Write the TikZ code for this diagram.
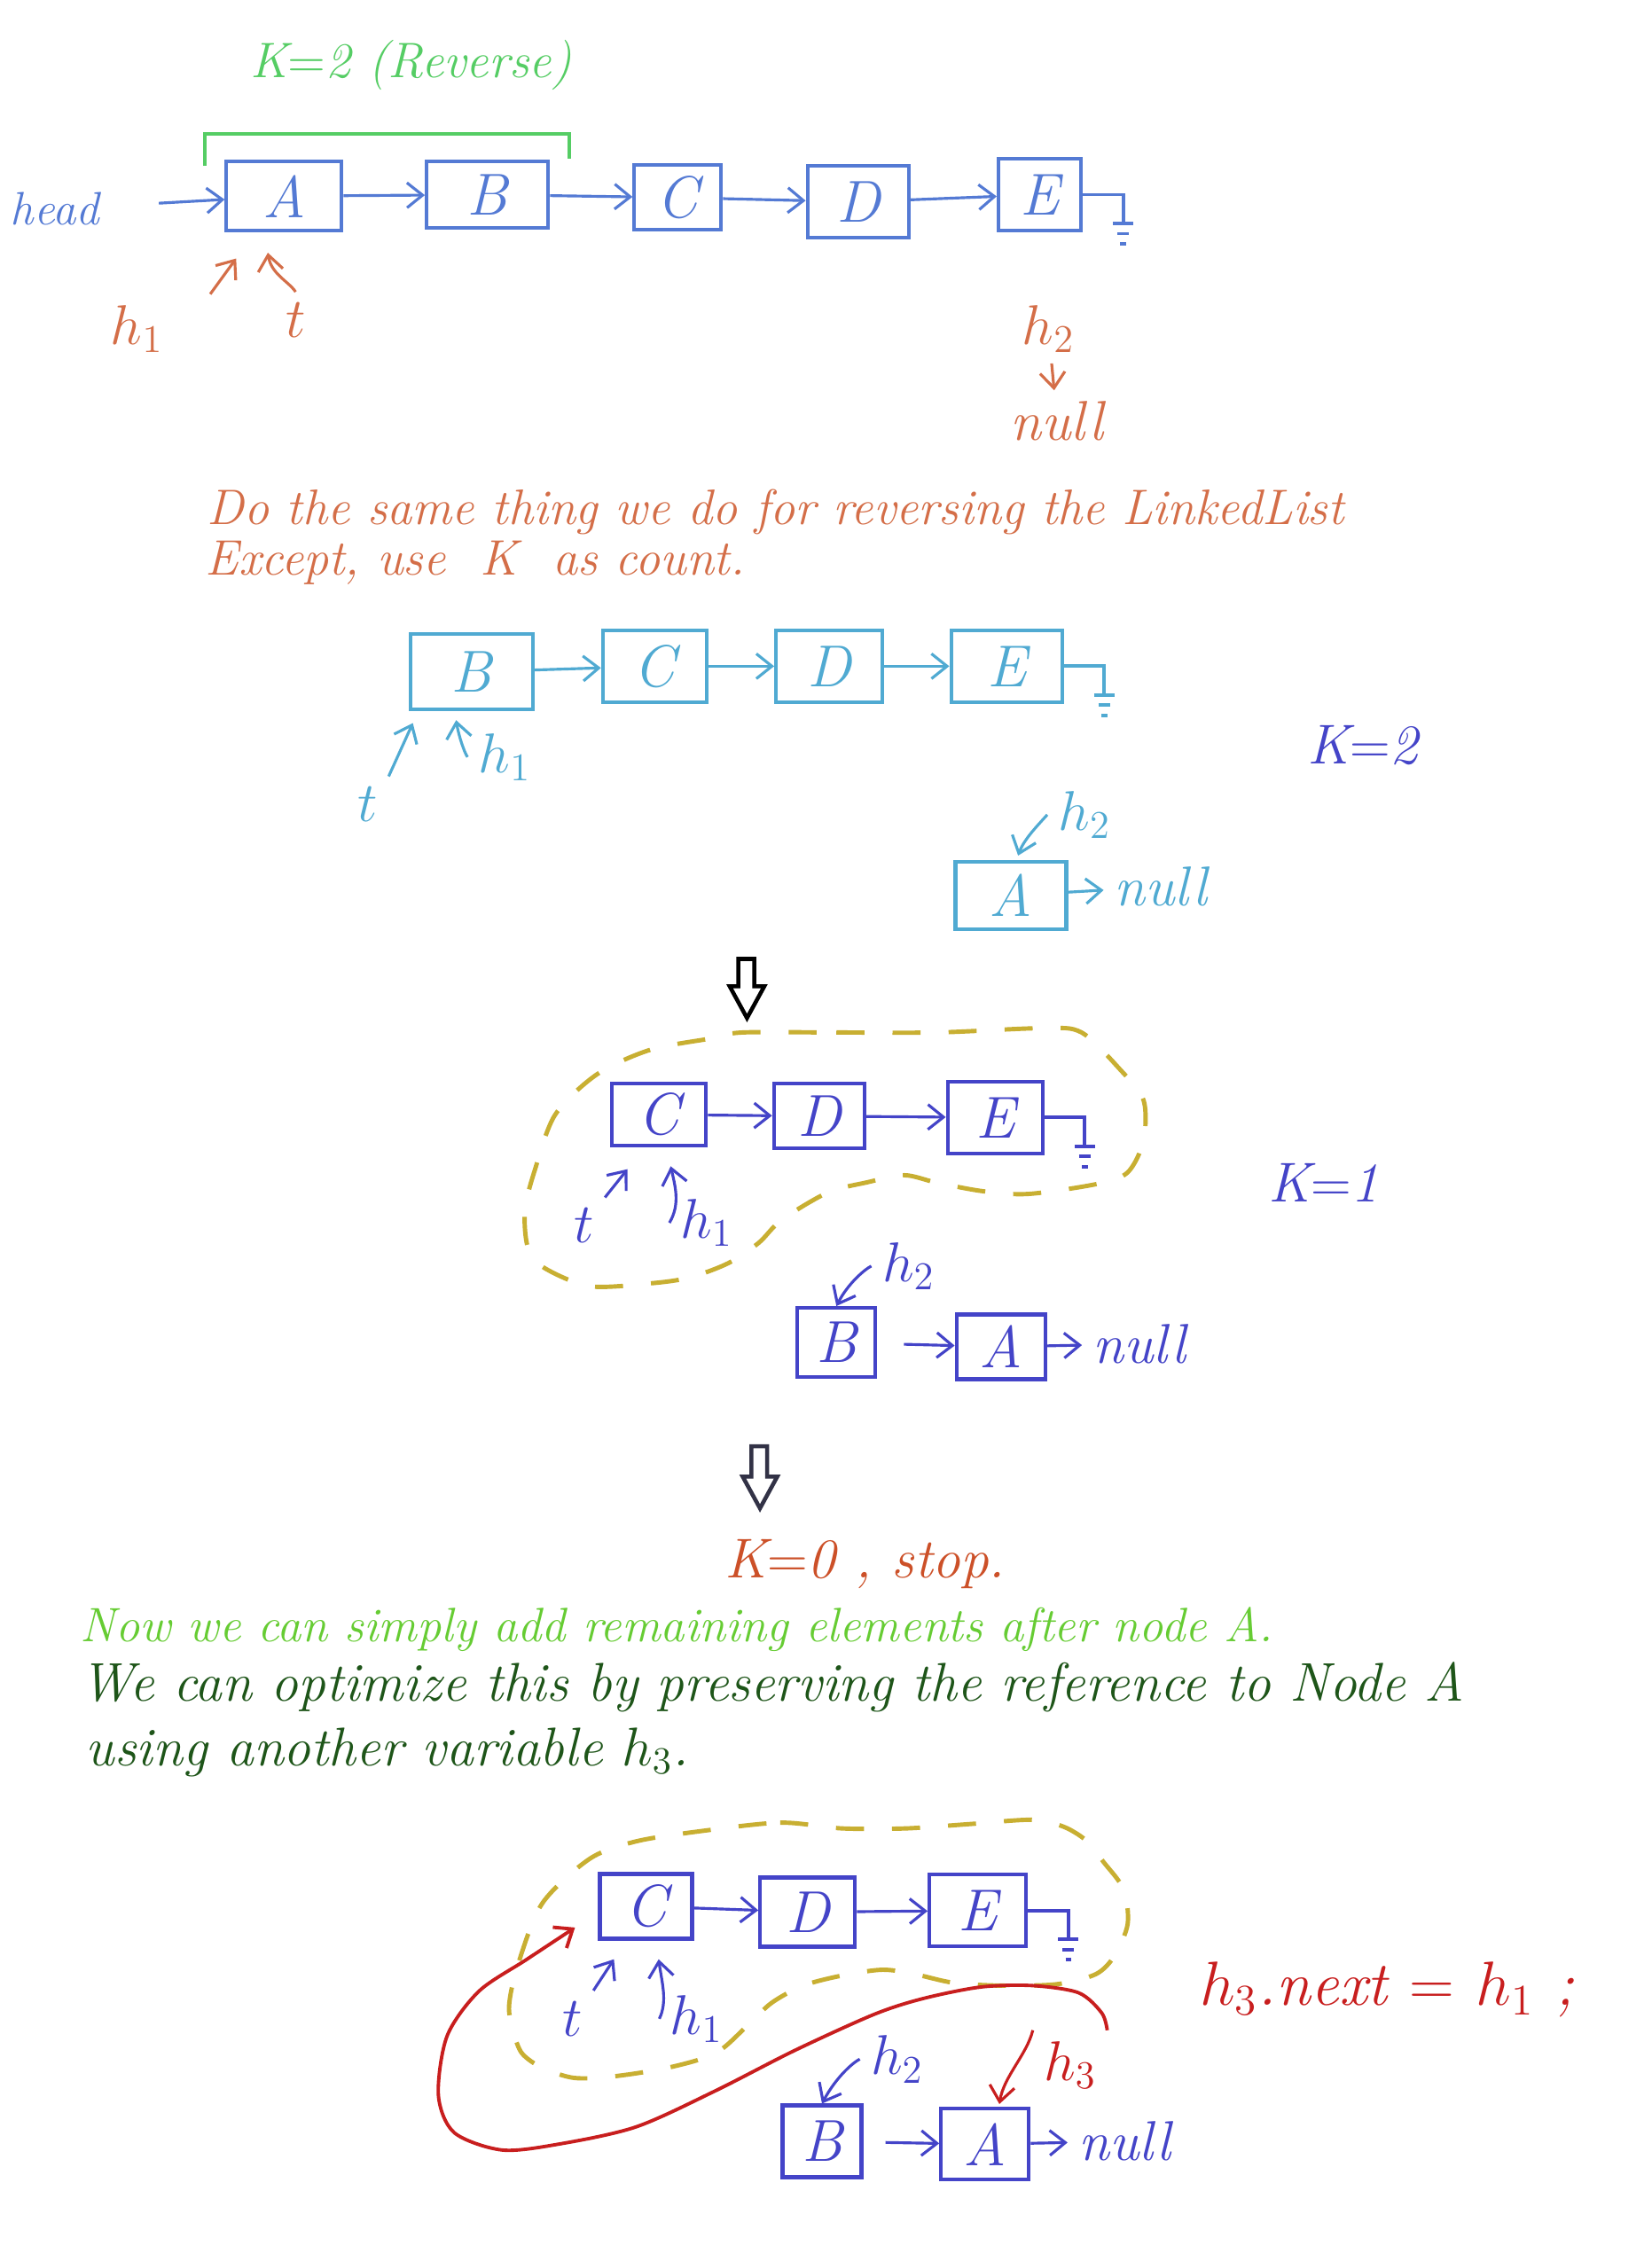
\RequirePackage{fix-cm}
\documentclass[tikz,border=0pt]{standalone}
\usepackage{fontspec}
\usetikzlibrary{arrows.meta}
\definecolor{inkA}{RGB}{84,122,212}
\definecolor{inkO}{RGB}{212,110,72}
\definecolor{inkG}{RGB}{85,205,100}
\definecolor{inkS}{RGB}{80,170,210}
\definecolor{inkI}{RGB}{68,68,200}
\definecolor{inkY}{RGB}{200,175,50}
\definecolor{inkK}{RGB}{204,80,40}
\definecolor{inkL}{RGB}{102,204,51}
\definecolor{inkD}{RGB}{30,85,25}
\definecolor{inkR}{RGB}{200,30,30}
\tikzset{
  box/.style={draw, line width=1.2pt, minimum height=0.78cm, minimum width=#1, inner sep=0pt, font=\fontsize{19}{22}\selectfont\itshape},
  lbl/.style={font=\fontsize{18}{21}\selectfont\itshape},
  txt/.style={anchor=west, font=\fontsize{16}{19}\selectfont\itshape},
  ptr/.style={->, line width=0.9pt},
  blob/.style={inkY, line width=1.4pt, dash pattern=on 9pt off 9pt},
  gnd/.pic={\draw (0,0) -- (28,0) -- (28,20); \draw (21,20) -- (35,20); \draw (24,27) -- (32,27); \draw (26,34) -- (30,34);}
}
\begin{document}
\begin{tikzpicture}[x=0.016262cm, y=-0.016262cm, >={Straight Barb[length=5pt,width=8pt]}]
\path[fill=white, use as bounding box] (0,0) rectangle (1145,1568);

% first list
\node[lbl, inkG, font=\fontsize{16}{19}\selectfont\itshape] (k_rev) at (285,45) {K$=$2 (Reverse)};
\draw[inkG, line width=1.2pt] (142,115) -- (142,93) -- (395,93) -- (395,110);
\begin{scope}[inkA]
\node[lbl, font=\fontsize{15}{18}\selectfont\itshape] (head) at (38,145) {head};
\node[box=1.30cm] (A_1) at (197,136) {A};
\node[box=1.37cm, minimum height=0.75cm] (B_1) at (338,135) {B};
\node[box=0.98cm, minimum height=0.73cm] (C_1) at (470,137) {C};
\node[box=1.14cm, minimum height=0.81cm] (D_1) at (595,140) {D};
\node[box=0.93cm, minimum height=0.81cm] (E_1) at (721,135) {E};
\draw[ptr, shorten <=0.55cm] (head) -- (A_1);
\draw[ptr] (A_1) -- (B_1);
\draw[ptr] (B_1) -- (C_1);
\draw[ptr] (C_1) -- (D_1);
\draw[ptr] (D_1) -- (E_1);
\pic[line width=1.1pt] at (E_1.east) {gnd};
\end{scope}
\begin{scope}[inkO]
\node[lbl] (h1_1) at (95,228) {$h_1$};
\node[lbl] (t_1) at (205,222) {$t$};
\node[lbl] (h2_1) at (727,228) {$h_2$};
\node[lbl] (null_1) at (733,292) {null};
\draw[ptr] ([shift={(25,0)}]h1_1.north east) -- ([shift={(8,18)}]A_1.south west);
\draw[ptr] (t_1.north) .. controls (200,195) and (188,190) .. ([shift={(30,14)}]A_1.south west);
\draw[ptr] (h2_1) -- (null_1);
\end{scope}

% second list
\begin{scope}[inkO]
\node[txt] (say_1) at (136,355) {Do the same thing we do for reversing the LinkedList};
\node[txt] (say_2) at (135,390) {Except, use \ K \ as count.};
\end{scope}
\begin{scope}[inkS]
\node[box=1.38cm, minimum height=0.85cm] (B_2) at (327,466) {B};
\node[box=1.17cm, minimum height=0.81cm] (C_2) at (454,462) {C};
\node[box=1.20cm, minimum height=0.81cm] (D_2) at (575,462) {D};
\node[box=1.25cm, minimum height=0.81cm] (E_2) at (698,462) {E};
\draw[ptr] (B_2) -- (C_2);
\draw[ptr] (C_2) -- (D_2);
\draw[ptr] (D_2) -- (E_2);
\pic[line width=1.1pt] at (E_2.east) {gnd};
\node[lbl] (t_2) at (255,558) {$t$};
\node[lbl] (h1_2) at (350,525) {$h_1$};
\draw[ptr] (t_2.north east) -- ([shift={(3,8)}]B_2.south west);
\draw[ptr] (h1_2.west) .. controls (322,522) and (318,510) .. ([shift={(33,6)}]B_2.south west);
\node[box=1.25cm, minimum height=0.76cm] (A_2) at (701,621) {A};
\node[lbl] (h2_2) at (752,565) {$h_2$};
\node[lbl] (null_2) at (805,615) {null};
\draw[ptr] (h2_2.west) .. controls (720,572) and (710,582) .. ([shift={(5,-3)}]A_2.north);
\draw[ptr] (A_2) -- (null_2);
\end{scope}
\node[lbl, inkI] (k_2) at (945,517) {K$=$2};

% step
\draw[line width=1.3pt, fill=white] (512,665) -- (523,665) -- (523,684) -- (530,684) -- (518,706) -- (506,684) -- (512,684) -- cycle;

% third list
\draw[blob] plot[smooth cycle] coordinates {(515,716) (580,716) (650,716) (723,713) (750,716) (777,742) (793,763) (793,791) (782,813) (761,821) (713,828) (681,826) (649,820) (627,815) (601,820) (574,827) (542,846) (526,862) (505,876) (478,886) (451,890) (409,892) (377,879) (366,865) (364,839) (371,811) (385,773) (414,745) (451,728) (494,720)};
\begin{scope}[inkI]
\node[box=1.06cm, minimum height=0.70cm] (C_3) at (457,773) {C};
\node[box=1.02cm, minimum height=0.73cm] (D_3) at (568,774) {D};
\node[box=1.07cm, minimum height=0.81cm] (E_3) at (690,775) {E};
\draw[ptr] (C_3) -- (D_3);
\draw[ptr] (D_3) -- (E_3);
\pic[line width=1.1pt] at (E_3.east) {gnd};
\node[lbl] (t_3) at (405,850) {$t$};
\node[lbl] (h1_3) at (490,848) {$h_1$};
\draw[ptr] (t_3.north east) -- ([shift={(12,15)}]C_3.south west);
\draw[ptr] (h1_3.west) .. controls (472,835) and (468,822) .. ([shift={(42,13)}]C_3.south west);
\node[lbl] (k_1) at (918,820) {K$=$1};
\node[box=0.88cm, minimum height=0.78cm] (B_3) at (580,931) {B};
\node[box=1.00cm, minimum height=0.73cm] (A_3) at (694,934) {A};
\node[lbl] (h2_3) at (630,878) {$h_2$};
\node[lbl] (null_3) at (790,932) {null};
\draw[ptr] (h2_3.west) .. controls (600,880) and (588,890) .. (B_3.north);
\draw[ptr, shorten <=0.3cm] (B_3) -- (A_3);
\draw[ptr] (A_3) -- (null_3);
\end{scope}

% step
\draw[line width=1.3pt, fill=white, draw={rgb,255:red,50;green,50;blue,70}] (521,1003) -- (532,1003) -- (532,1024) -- (539,1024) -- (527,1046) -- (515,1024) -- (521,1024) -- cycle;

\node[lbl, inkK] (k_0) at (600,1085) {K$=$0 , stop.};
\node[txt, inkL, font=\fontsize{15.5}{18}\selectfont\itshape] (say_3) at (48,1130) {Now we can simply add remaining elements after node A.};
\node[txt, inkD, font=\fontsize{17.5}{21}\selectfont\itshape] (say_4) at (48,1170) {We can optimize this by preserving the reference to Node A};
\node[txt, inkD, font=\fontsize{17.5}{21}\selectfont\itshape] (say_5) at (52,1215) {using another variable $h_3$.};

% fourth list
\draw[blob] plot[smooth cycle] coordinates {(485,1270) (541,1264) (584,1268) (628,1268) (672,1265) (716,1262) (738,1267) (754,1277) (765,1291) (779,1310) (782,1334) (773,1356) (760,1369) (733,1376) (694,1377) (661,1375) (634,1369) (612,1366) (584,1370) (557,1377) (535,1389) (518,1405) (496,1424) (463,1434) (425,1440) (398,1441) (376,1434) (362,1424) (356,1409) (353,1391) (359,1363) (376,1320) (409,1289) (441,1277)};
\begin{scope}[inkI]
\node[box=1.04cm, minimum height=0.73cm] (C_4) at (448,1322) {C};
\node[box=1.07cm, minimum height=0.78cm] (D_4) at (560,1326) {D};
\node[box=1.09cm, minimum height=0.81cm] (E_4) at (678,1325) {E};
\draw[ptr] (C_4) -- (D_4);
\draw[ptr] (D_4) -- (E_4);
\pic[line width=1.1pt] at (E_4.east) {gnd};
\node[lbl] (t_4) at (397,1400) {$t$};
\node[lbl] (h1_4) at (483,1400) {$h_1$};
\draw[ptr] (t_4.north east) -- ([shift={(11,13)}]C_4.south west);
\draw[ptr] (h1_4.west) .. controls (463,1388) and (459,1375) .. ([shift={(42,13)}]C_4.south west);
\node[box=0.89cm, minimum height=0.81cm] (B_4) at (570,1485) {B};
\node[box=0.99cm, minimum height=0.80cm] (A_4) at (683,1487) {A};
\node[lbl] (h2_4) at (622,1428) {$h_2$};
\node[lbl] (null_4) at (780,1485) {null};
\draw[ptr] (h2_4.west) .. controls (592,1430) and (580,1440) .. (B_4.north);
\draw[ptr, shorten <=0.25cm] (B_4) -- (A_4);
\draw[ptr] (A_4) -- (null_4);
\end{scope}
\begin{scope}[inkR]
\node[lbl] (h3_4) at (742,1432) {$h_3$};
\node[lbl, font=\fontsize{20}{24}\selectfont\itshape] (eq) at (962,1380) {$h_3$.next $=$ $h_1$ ;};
\draw[ptr] (h3_4.north west) .. controls (712,1425) and (696,1440) .. ([shift={(10,-2)}]A_4.north);
\draw[->, line width=1.1pt] plot[smooth] coordinates {(h3_4.north east) (764,1396) (748,1382) (716,1377) (680,1378) (640,1386) (606,1397) (551,1422) (496,1450) (441,1475) (387,1487) (348,1491) (315,1479) (304,1453) (310,1412) (332,1381) (365,1359) ([shift={(-16,-9)}]C_4.south west)};
\end{scope}
\end{tikzpicture}
\end{document}
